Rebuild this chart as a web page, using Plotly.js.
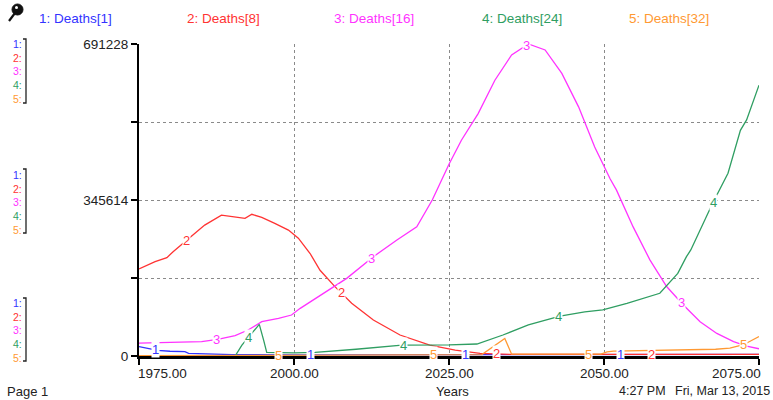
<!DOCTYPE html>
<html>
<head>
<meta charset="utf-8">
<script src="https://cdn.plot.ly/plotly-3.0.1.min.js"></script>
<style>
html,body{margin:0;padding:0;background:#fff;}
#chart{width:773px;height:400px;}
</style>
</head>
<body>
<div id="chart"></div>
<script>
// ---- data ----
const seriesNames = ["Deaths[1]", "Deaths[8]", "Deaths[16]", "Deaths[24]", "Deaths[32]"];
const seriesColors = ["#3333ff", "#ff3333", "#ff33ff", "#2f9e62", "#ff9933"];

const years1  = [1975, 1976, 1978, 1980, 1982.4, 1983, 1986.7, 1990, 2000, 2025, 2050, 2068.5, 2069, 2075];
const deaths1 = [20600, 17500, 12500, 10500, 9500, 6000, 4000, 3000, 2500, 2500, 2500, 2500, 3500, 3500];

const years2  = [1975, 1977.6, 1979.5, 1980.5, 1982.4, 1985.6, 1988.3, 1990.5, 1992.1, 1993.2, 1994.8, 1996.9, 1999.1, 2000.7, 2002.6, 2004.2, 2006.6, 2009.3, 2012.8, 2017.1, 2021.9, 2026, 2030, 2035, 2050, 2075];
const deaths2 = [193000, 209000, 218000, 231000, 253000, 290000, 312000, 307000, 305000, 314000, 307000, 294000, 279000, 261000, 227000, 190000, 153600, 116700, 79800, 46500, 24000, 13000, 6000, 3500, 3500, 3500];

const years3  = [1975, 1985.1, 1987.7, 1990.5, 1992.6, 1994.8, 1997.5, 1999.6, 2001, 2004.7, 2008.5, 2012.8, 2016.6, 2019.8, 2022.3, 2025, 2027, 2029.7, 2032.4, 2035.1, 2037.8, 2040.5, 2043.2, 2045.9, 2048.5, 2051, 2052, 2054.7, 2057.4, 2060.1, 2062.8, 2065.5, 2068.2, 2070.9, 2073, 2075];
const deaths3 = [28500, 31700, 37000, 45000, 57600, 76000, 83500, 90800, 105600, 139000, 172000, 220000, 257000, 286000, 345600, 425000, 478000, 537000, 611000, 667000, 691228, 678000, 626000, 552000, 463000, 392000, 368000, 286000, 213000, 154000, 113000, 76000, 50000, 32000, 22000, 16000];

const years4  = [1975, 1990.5, 1991.6, 1993.2, 1994.4, 1995.1, 1995.6, 2000, 2003.4, 2010, 2017.4, 2025, 2029.5, 2033.7, 2037.8, 2042.9, 2046.9, 2049.8, 2053.7, 2059, 2061.9, 2063.3, 2064, 2067.5, 2070, 2072, 2073, 2075];
const deaths4 = [0, 0, 24000, 50000, 70000, 35000, 8000, 7000, 8000, 15000, 24000, 24500, 26600, 46500, 68700, 88600, 98000, 102000, 116700, 139000, 183000, 220000, 235000, 338000, 405000, 500000, 523000, 600000];

const years5  = [1975, 2030.3, 2034, 2035.1, 2049.5, 2050.5, 2051.5, 2061.2, 2068, 2070.3, 2072.5, 2075];
const deaths5 = [800, 3000, 39000, 4000, 4000, 9000, 11000, 13000, 15000, 17500, 25000, 43000];

const xTickVals = [1975, 2000, 2025, 2050, 2075];
const xTickText = ["1975.00", "2000.00", "2025.00", "2050.00", "2075.00"];
const yTickVals = [0, 172807, 345614, 518421, 691228];
const yTickText = ["0", "", "345614", "", "691228"];
const labelFirstYear = [1977.6, 1982.6, 1987.5, 1992.6, 1997.5];
const labelStep = 25;
const xTitle = "Years";
const pageText = "Page 1";
const timeText = "4:27 PM";
const dateText = "Fri, Mar 13, 2015";

// ---- layout helpers ----
const W = 773, H = 400;
const L = 139, R = 759, T = 44, B = 356;
const px = x => (x - L) / (R - L);
const py = y => (B - y) / (B - T);
const FONT = "Liberation Sans, Arial, sans-serif";

const allX = [years1, years2, years3, years4, years5];
const allY = [deaths1, deaths2, deaths3, deaths4, deaths5];

function interp(xs, ys, x) {
  for (let i = 0; i < xs.length - 1; i++) {
    if (x >= xs[i] && x <= xs[i + 1]) {
      const t = (x - xs[i]) / (xs[i + 1] - xs[i]);
      return ys[i] + t * (ys[i + 1] - ys[i]);
    }
  }
  return ys[ys.length - 1];
}

const traces = allX.map((xs, i) => ({
  type: "scatter", mode: "lines", x: xs, y: allY[i],
  line: {color: seriesColors[i], width: 1.3},
  name: (i + 1) + ": " + seriesNames[i], hoverinfo: "skip"
}));

const annotations = [];
// line number labels
allX.forEach((xs, i) => {
  for (let yr = labelFirstYear[i]; yr < 2075; yr += labelStep) {
    annotations.push({
      x: yr, y: interp(xs, allY[i], yr), xref: "x", yref: "y",
      text: String(i + 1), showarrow: false, bgcolor: "#ffffff", borderpad: 0,
      font: {family: FONT, size: 13, color: seriesColors[i]}
    });
  }
});
// x tick labels
xTickVals.forEach((v, i) => {
  annotations.push({
    x: v, y: py(373), xref: "x", yref: "paper", text: xTickText[i], showarrow: false,
    xanchor: i === 0 ? "left" : (i === xTickVals.length - 1 ? "right" : "center"),
    xshift: i === 0 ? -3 : (i === xTickVals.length - 1 ? 4 : 0),
    yanchor: "middle", font: {family: FONT, size: 13.5, color: "#222"}
  });
});
// top legend
const legendX = [37, 185, 332, 480, 627];
seriesNames.forEach((n, i) => {
  annotations.push({
    x: px(legendX[i]), y: py(18), xref: "paper", yref: "paper", xanchor: "left", yanchor: "middle",
    text: (i + 1) + ": " + n, showarrow: false,
    font: {family: FONT, size: 13.5, color: seriesColors[i]}
  });
});
// left scale keys (one multi-line text per group)
const groupCenters = [71, 202, 330];
const keyText = seriesColors.map((c, i) => `<span style="color:${c}">${i + 1}:</span>`).join("<br>");
groupCenters.forEach(g => {
  annotations.push({
    x: px(23), y: py(g), xref: "paper", yref: "paper", xanchor: "right", yanchor: "middle",
    align: "right", text: keyText, showarrow: false, borderpad: 0,
    font: {family: FONT, size: 10.5, color: "#222"}
  });
});
// bottom texts
annotations.push({x: px(5), y: py(391), xref: "paper", yref: "paper", xanchor: "left", yanchor: "middle",
  text: pageText, showarrow: false, font: {family: FONT, size: 13, color: "#222"}});
annotations.push({x: px(452), y: py(391), xref: "paper", yref: "paper", xanchor: "center", yanchor: "middle",
  text: xTitle, showarrow: false, font: {family: FONT, size: 13, color: "#222"}});
annotations.push({x: px(617), y: py(391), xref: "paper", yref: "paper", xanchor: "left", yanchor: "middle",
  text: timeText, showarrow: false, font: {family: FONT, size: 12.5, color: "#222"}});
annotations.push({x: px(673), y: py(391), xref: "paper", yref: "paper", xanchor: "left", yanchor: "middle",
  text: dateText, showarrow: false, font: {family: FONT, size: 12.5, color: "#222"}});

// shapes: brackets and pin icon
const shapes = [];
const brackets = [[39, 103], [169, 233], [298, 361]];
brackets.forEach(b => {
  const path = `M ${px(23)},${py(b[0])} L ${px(26)},${py(b[0])} L ${px(26)},${py(b[1])} L ${px(23)},${py(b[1])}`;
  shapes.push({type: "path", xref: "paper", yref: "paper", path: path, line: {color: "#222", width: 1.3}});
});
shapes.push({type: "line", xref: "paper", yref: "paper", x0: px(15), y0: py(13), x1: px(9), y1: py(21),
  line: {color: "#111", width: 2.2}});
shapes.push({type: "circle", xref: "paper", yref: "paper", x0: px(12), y0: py(4), x1: px(23), y1: py(15),
  fillcolor: "#111", line: {color: "#111", width: 1}});
shapes.push({type: "circle", xref: "paper", yref: "paper", x0: px(15), y0: py(6), x1: px(18), y1: py(9),
  fillcolor: "#fff", line: {color: "#fff", width: 0}});

const layout = {
  width: W, height: H,
  margin: {l: L, r: W - R, t: T, b: H - B, pad: 0},
  paper_bgcolor: "#fff", plot_bgcolor: "#fff",
  showlegend: false, hovermode: false,
  xaxis: {
    range: [1975, 2075], tickvals: xTickVals, showticklabels: false,
    showgrid: true, gridcolor: "#8a8a8a", griddash: "dot", gridwidth: 1,
    zeroline: false, showline: true, linecolor: "#000", linewidth: 3,
    ticks: "outside", ticklen: 6, tickwidth: 2, tickcolor: "#000"
  },
  yaxis: {
    range: [0, 691228], tickvals: yTickVals, ticktext: yTickText,
    showgrid: true, gridcolor: "#8a8a8a", griddash: "dot", gridwidth: 1,
    zeroline: false, showline: true, linecolor: "#000", linewidth: 2,
    ticks: "outside", ticklen: 6, tickwidth: 2, tickcolor: "#000",
    tickfont: {family: FONT, size: 13.5, color: "#222"}
  },
  annotations: annotations,
  shapes: shapes
};

Plotly.newPlot("chart", traces, layout, {displayModeBar: false, staticPlot: true});
</script>
</body>
</html>
